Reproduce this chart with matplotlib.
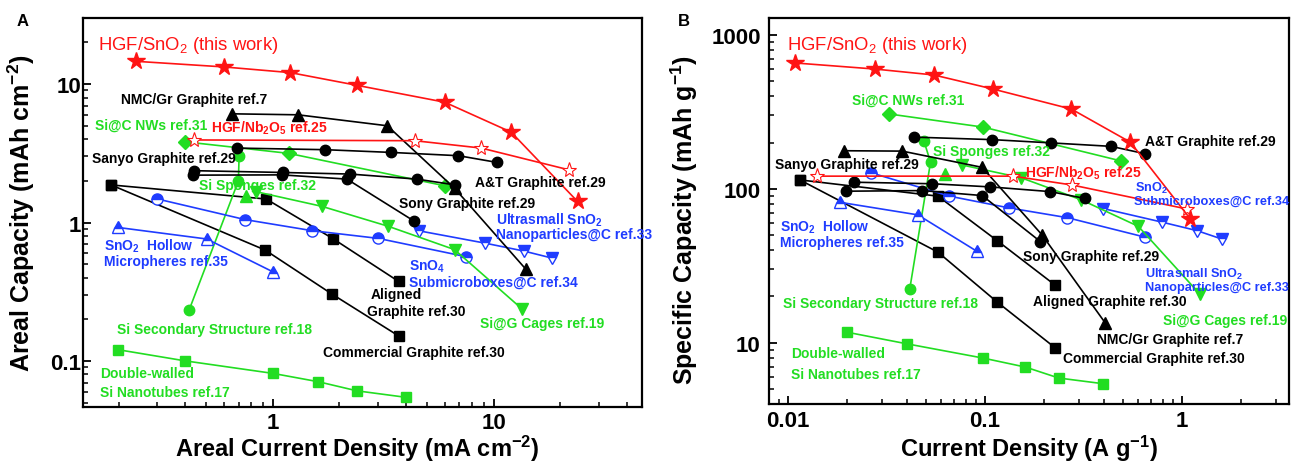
import matplotlib
matplotlib.use('Agg')
import matplotlib.pyplot as plt
from matplotlib.ticker import LogLocator, FuncFormatter, NullFormatter

plt.rcParams['font.family'] = ['Liberation Sans', 'DejaVu Sans']
plt.rcParams['mathtext.fontset'] = 'custom'
plt.rcParams['mathtext.rm'] = 'Liberation Sans'
plt.rcParams['mathtext.bf'] = 'Liberation Sans:bold'
plt.rcParams['mathtext.it'] = 'Liberation Sans:italic'

RED = '#ff1414'
GREEN = '#22dd22'
BLUE = '#1f3cff'
BLACK = '#000000'

# ---------------- Panel A data (areal current density mA cm-2, areal capacity mAh cm-2)
a_sno2_x = [0.24, 0.6, 1.2, 2.4, 6.0, 12.0, 24.0]
a_sno2_y = [14.6, 13.3, 12.1, 9.8, 7.4, 4.5, 1.42]
a_nb2o5_x = [0.44, 4.4, 8.8, 22.0]
a_nb2o5_y = [3.95, 3.9, 3.45, 2.4]
a_nmc_x = [0.65, 1.3, 3.3, 6.65, 14.0]
a_nmc_y = [6.1, 6.0, 5.0, 1.77, 0.46]
a_sanyo_x = [0.69, 1.72, 3.44, 6.93, 10.35]
a_sanyo_y = [3.45, 3.36, 3.21, 3.04, 2.72]
a_at_x = [0.44, 1.11, 2.24, 4.49, 6.7]
a_at_y = [2.37, 2.30, 2.24, 2.06, 1.87]
a_sony_x = [0.434, 1.10, 2.165, 4.34]
a_sony_y = [2.2, 2.21, 2.06, 1.03]
a_sicnw_x = [0.40, 1.18, 6.04]
a_sicnw_y = [3.83, 3.16, 1.84]
a_sisec_x = [0.418, 0.698, 0.703]
a_sisec_y = [0.235, 2.0, 3.01]
a_sispg_x = [0.757]
a_sispg_y = [1.55]
a_sigc_x = [0.84, 1.667, 3.34, 6.65, 13.4]
a_sigc_y = [1.67, 1.31, 0.939, 0.638, 0.239]
a_sbox_x = [0.30, 0.75, 1.50, 3.0, 7.47]
a_sbox_y = [1.48, 1.05, 0.875, 0.769, 0.568]
a_usno2_x = [4.57, 9.12, 13.7, 18.4]
a_usno2_y = [0.873, 0.711, 0.623, 0.554]
a_hollow_x = [0.198, 0.502, 1.0]
a_hollow_y = [0.923, 0.761, 0.441]
a_align_x = [0.185, 0.932, 1.87, 3.71]
a_align_y = [1.87, 1.48, 0.766, 0.376]
a_comm_x = [0.185, 0.923, 1.85, 3.71]
a_comm_y = [1.87, 0.633, 0.305, 0.152]
a_dwsi_x = [0.198, 0.398, 1.0, 1.609, 2.40, 4.02]
a_dwsi_y = [0.121, 0.1005, 0.0815, 0.0709, 0.061, 0.0547]

# ---------------- Panel B data (current density A g-1, specific capacity mAh g-1)
b_sno2_x = [0.0109, 0.0276, 0.055, 0.1095, 0.275, 0.548, 1.104]
b_sno2_y = [658, 601, 550, 446, 330, 201, 63.8]
b_nb2o5_x = [0.014, 0.139, 0.277, 1.062]
b_nb2o5_y = [121, 121, 106, 74]
b_nmc_x = [0.0192, 0.038, 0.0968, 0.195, 0.409]
b_nmc_y = [177, 176, 138, 50.2, 13.4]
b_at_x = [0.0435, 0.1088, 0.217, 0.437, 0.653]
b_at_y = [217, 209, 199, 189, 169]
b_sanyo_x = [0.0216, 0.054, 0.1066, 0.215, 0.321]
b_sanyo_y = [110.5, 108, 103, 96, 86.7]
b_sony_x = [0.0196, 0.048, 0.0968, 0.191]
b_sony_y = [96.6, 97.5, 90.5, 45.5]
b_sicnw_x = [0.0325, 0.098, 0.49]
b_sicnw_y = [307, 252, 152]
b_sisec_x = [0.0415, 0.0529, 0.0489]
b_sisec_y = [22.4, 149, 206]
b_sispg_x = [0.063]
b_sispg_y = [125]
b_sigc_x = [0.0766, 0.153, 0.309, 0.601, 1.23]
b_sigc_y = [143, 118, 84.8, 57.1, 20.8]
b_sbox_x = [0.0265, 0.066, 0.132, 0.262, 0.653]
b_sbox_y = [127, 89.7, 75.3, 65, 48.5]
b_usno2_x = [0.3995, 0.793, 1.19, 1.59]
b_usno2_y = [74.5, 60.8, 53.6, 47.3]
b_hollow_x = [0.01826, 0.0456, 0.0913]
b_hollow_y = [81.9, 67.8, 39.2]
b_align_x = [0.01148, 0.0577, 0.1153, 0.228]
b_align_y = [114.4, 89.7, 46.1, 23.6]
b_comm_x = [0.01148, 0.0577, 0.1153, 0.228]
b_comm_y = [114.4, 38.8, 18.4, 9.24]
b_dwsi_x = [0.02, 0.04, 0.098, 0.1605, 0.237, 0.398]
b_dwsi_y = [11.7, 9.85, 7.95, 6.95, 5.90, 5.42]

# ---------------- styles
STY = {
    'sno2':   dict(color=RED, marker='*', ms=13, mfc=RED, mec=RED),
    'nb2o5':  dict(color=RED, marker='*', ms=11, mfc='white', mec=RED, mew=0.8),
    'nmc':    dict(color=BLACK, marker='^', ms=8, mfc=BLACK, mec=BLACK),
    'circ':   dict(color=BLACK, marker='o', ms=7.5, mfc=BLACK, mec=BLACK),
    'sicnw':  dict(color=GREEN, marker='D', ms=7, mfc=GREEN, mec=GREEN),
    'sisec':  dict(color=GREEN, marker='o', ms=7.5, mfc=GREEN, mec=GREEN),
    'sispg':  dict(color=GREEN, marker='^', ms=8.5, mfc=GREEN, mec=GREEN),
    'sigc':   dict(color=GREEN, marker='v', ms=8.5, mfc=GREEN, mec=GREEN),
    'sbox':   dict(color=BLUE, marker='o', ms=8, mfc=BLUE, mfcalt='white', mec=BLUE, fillstyle='top', mew=1.0),
    'usno2':  dict(color=BLUE, marker='v', ms=8.5, mfc=BLUE, mfcalt='white', mec=BLUE, fillstyle='top', mew=1.0),
    'hollow': dict(color=BLUE, marker='^', ms=8.5, mfc=BLUE, mfcalt='white', mec=BLUE, fillstyle='top', mew=1.0),
    'sq':     dict(color=BLACK, marker='s', ms=6.5, mfc=BLACK, mec=BLACK),
    'dwsi':   dict(color=GREEN, marker='s', ms=6.5, mfc=GREEN, mec=GREEN),
}

series_a = [
    ('comm', a_comm_x, a_comm_y, 'sq'), ('align', a_align_x, a_align_y, 'sq'),
    ('dwsi', a_dwsi_x, a_dwsi_y, 'dwsi'), ('sisec', a_sisec_x, a_sisec_y, 'sisec'),
    ('hollow', a_hollow_x, a_hollow_y, 'hollow'), ('sbox', a_sbox_x, a_sbox_y, 'sbox'),
    ('usno2', a_usno2_x, a_usno2_y, 'usno2'), ('sigc', a_sigc_x, a_sigc_y, 'sigc'),
    ('sispg', a_sispg_x, a_sispg_y, 'sispg'), ('sicnw', a_sicnw_x, a_sicnw_y, 'sicnw'),
    ('sony', a_sony_x, a_sony_y, 'circ'), ('at', a_at_x, a_at_y, 'circ'),
    ('sanyo', a_sanyo_x, a_sanyo_y, 'circ'), ('nmc', a_nmc_x, a_nmc_y, 'nmc'),
    ('nb2o5', a_nb2o5_x, a_nb2o5_y, 'nb2o5'), ('sno2', a_sno2_x, a_sno2_y, 'sno2'),
]
series_b = [
    ('comm', b_comm_x, b_comm_y, 'sq'), ('align', b_align_x, b_align_y, 'sq'),
    ('dwsi', b_dwsi_x, b_dwsi_y, 'dwsi'), ('sisec', b_sisec_x, b_sisec_y, 'sisec'),
    ('hollow', b_hollow_x, b_hollow_y, 'hollow'), ('sbox', b_sbox_x, b_sbox_y, 'sbox'),
    ('usno2', b_usno2_x, b_usno2_y, 'usno2'), ('sigc', b_sigc_x, b_sigc_y, 'sigc'),
    ('sispg', b_sispg_x, b_sispg_y, 'sispg'), ('sicnw', b_sicnw_x, b_sicnw_y, 'sicnw'),
    ('sony', b_sony_x, b_sony_y, 'circ'), ('sanyo', b_sanyo_x, b_sanyo_y, 'circ'),
    ('at', b_at_x, b_at_y, 'circ'), ('nmc', b_nmc_x, b_nmc_y, 'nmc'),
    ('nb2o5', b_nb2o5_x, b_nb2o5_y, 'nb2o5'), ('sno2', b_sno2_x, b_sno2_y, 'sno2'),
]

# annotation texts: (text, colour, x px, y px, size, weight)
LS = 10
LSE = 9.2   # labels at the right edge of panel B
labels_a = [
    ('HGF/SnO$_\\mathregular{2}$ (this work)', RED, 98, 45, 13.3, 'normal'),
    ('NMC/Gr Graphite ref.7', BLACK, 121, 100, LS, 'bold'),
    ('Si@C NWs ref.31', GREEN, 95, 126, LS, 'bold'),
    ('HGF/Nb$_\\mathbf{2}$O$_\\mathbf{5}$ ref.25', RED, 211, 128, 10, 'bold'),
    ('Sanyo Graphite ref.29', BLACK, 92, 159, LS, 'bold'),
    ('Si Sponges ref.32', GREEN, 199, 186, LS, 'bold'),
    ('A&T Graphite ref.29', BLACK, 475, 183, LS, 'bold'),
    ('Sony Graphite ref.29', BLACK, 399, 204, LS, 'bold'),
    ('Ultrasmall SnO$_\\mathbf{2}$', BLUE, 496, 220, LS, 'bold'),
    ('Nanoparticles@C ref.33', BLUE, 496, 235, LS, 'bold'),
    ('SnO$_\\mathbf{2}$  Hollow', BLUE, 104, 246, LS, 'bold'),
    ('Micropheres ref.35', BLUE, 104, 262, LS, 'bold'),
    ('SnO$_\\mathbf{4}$', BLUE, 409, 267, LS, 'bold'),
    ('Submicroboxes@C ref.34', BLUE, 409, 283, LS, 'bold'),
    ('Aligned', BLACK, 371, 295, LS, 'bold'),
    ('Graphite ref.30', BLACK, 367, 312, LS, 'bold'),
    ('Si@G Cages ref.19', GREEN, 480, 324, LS, 'bold'),
    ('Si Secondary Structure ref.18', GREEN, 117, 330, LS, 'bold'),
    ('Commercial Graphite ref.30', BLACK, 323, 353, LS, 'bold'),
    ('Double-walled', GREEN, 100, 374, LS, 'bold'),
    ('Si Nanotubes ref.17', GREEN, 100, 393, LS, 'bold'),
]
labels_b = [
    ('HGF/SnO$_\\mathregular{2}$ (this work)', RED, 787, 45, 13.3, 'normal'),
    ('Si@C NWs ref.31', GREEN, 852, 101, LS, 'bold'),
    ('Si Sponges ref.32', GREEN, 933, 152, LS, 'bold'),
    ('Sanyo Graphite ref.29', BLACK, 775, 165, LS, 'bold'),
    ('A&T Graphite ref.29', BLACK, 1145, 142, LS, 'bold'),
    ('HGF/Nb$_\\mathbf{2}$O$_\\mathbf{5}$ ref.25', RED, 1025, 173, 10, 'bold'),
    ('SnO$_\\mathbf{2}$', BLUE, 1135, 188, LSE, 'bold'),
    ('Submicroboxes@C ref.34', BLUE, 1134, 202, LSE, 'bold'),
    ('SnO$_\\mathbf{2}$  Hollow', BLUE, 780, 227, LS, 'bold'),
    ('Micropheres ref.35', BLUE, 780, 243, LS, 'bold'),
    ('Sony Graphite ref.29', BLACK, 1023, 257, LS, 'bold'),
    ('Ultrasmall SnO$_\\mathbf{2}$', BLUE, 1145, 274, LSE, 'bold'),
    ('Nanoparticles@C ref.33', BLUE, 1145, 288, LSE, 'bold'),
    ('Aligned Graphite ref.30', BLACK, 1033, 302, LS, 'bold'),
    ('Si Secondary Structure ref.18', GREEN, 783, 304, LS, 'bold'),
    ('Si@G Cages ref.19', GREEN, 1163, 321, LS, 'bold'),
    ('NMC/Gr Graphite ref.7', BLACK, 1097, 340, LS, 'bold'),
    ('Double-walled', GREEN, 791, 354, LS, 'bold'),
    ('Commercial Graphite ref.30', BLACK, 1063, 359, LS, 'bold'),
    ('Si Nanotubes ref.17', GREEN, 791, 375, LS, 'bold'),
]

W, H = 1291, 464
fig = plt.figure(figsize=(W / 100, H / 100), dpi=100)

def px_rect(l, t, r, b):
    return [l / W, (H - b) / H, (r - l) / W, (b - t) / H]

axA = fig.add_axes(px_rect(83, 19, 642, 408))
axB = fig.add_axes(px_rect(769, 19, 1289, 405))

def draw(ax, series):
    for name, xs, ys, key in series:
        st = dict(STY[key])
        ax.plot(xs, ys, lw=1.2, zorder=3, **st)

draw(axA, series_a)
draw(axB, series_b)

fmt = FuncFormatter(lambda v, _: '%g' % v)
for ax in (axA, axB):
    ax.set_xscale('log')
    ax.set_yscale('log')
    for axis in (ax.xaxis, ax.yaxis):
        axis.set_major_locator(LogLocator(base=10))
        axis.set_minor_locator(LogLocator(base=10, subs=range(2, 10)))
        axis.set_major_formatter(fmt)
        axis.set_minor_formatter(NullFormatter())
    for sp in ax.spines.values():
        sp.set_linewidth(1.6)
    ax.tick_params(which='major', direction='in', length=6, width=1.3, labelsize=16)
    ax.tick_params(which='minor', direction='in', length=3.5, width=1.1)
    ax.tick_params(top=False, right=False)
    for lab in ax.get_xticklabels() + ax.get_yticklabels():
        lab.set_fontweight('bold')

axA.set_xlim(0.138, 47.0)
axA.set_ylim(0.0466, 30)
axB.set_xlim(0.0080, 3.5)
axB.set_ylim(4.0, 1290)

axA.tick_params(axis='y', which='major', pad=1.5)
axA.tick_params(axis='x', which='major', pad=3.5)
axB.tick_params(axis='y', which='major', pad=6)
axB.tick_params(axis='x', which='major', pad=4.5)

LBL = 18
XLBL = 17
axA.set_xlabel('Areal Current Density (mA cm$^{\\mathbf{-2}}$)', fontsize=XLBL, fontweight='bold')
axA.set_ylabel('Areal Capacity (mAh cm$^{\\mathbf{-2}}$)', fontsize=LBL, fontweight='bold')
axB.set_xlabel('Current Density (A g$^{\\mathbf{-1}}$)', fontsize=XLBL, fontweight='bold')
axB.set_ylabel('Specific Capacity (mAh g$^{\\mathbf{-1}}$)', fontsize=LBL, fontweight='bold')

# label anchor positions from pixel locations
axA.xaxis.set_label_coords(0.49, (408 - 434) / (408 - 19))
axB.xaxis.set_label_coords(0.5, (405 - 434) / (405 - 19))
axA.yaxis.set_label_coords((37 - 83) / (642 - 83), 0.5)
axB.yaxis.set_label_coords((700 - 769) / (1289 - 769), 0.48)

for labs in (labels_a, labels_b):
    for s, c, x, y, fs, fw in labs:
        fig.text(x / W, 1 - y / H, s, color=c, fontsize=fs, fontweight=fw,
                 ha='left', va='center', zorder=5)

fig.text(23 / W, 1 - 22 / H, 'A', fontsize=12, fontweight='bold', ha='center', va='center')
fig.text(684 / W, 1 - 21 / H, 'B', fontsize=12, fontweight='bold', ha='center', va='center')

fig.savefig('out.png', dpi=100)
